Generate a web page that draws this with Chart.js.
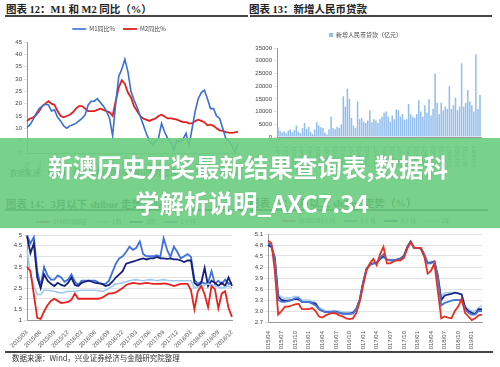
<!DOCTYPE html>
<html>
<head>
<meta charset="utf-8">
<script src="https://cdn.jsdelivr.net/npm/chart.js@4.4.1/dist/chart.umd.min.js"></script>
<style>
  body { margin: 0; width: 500px; height: 367px; background: #fff; position: relative; overflow: hidden; font-family: "Noto Sans CJK SC", sans-serif; }
  .box { position: absolute; }
  .title { position: absolute; font-family: "Liberation Serif", "Noto Sans CJK SC", serif; font-weight: bold; font-size: 10.5px; color: #222; white-space: nowrap; }
  .rule { position: absolute; height: 1.5px; background: #444; }
  .src { position: absolute; font-size: 7.5px; color: #333; white-space: nowrap; }
  #banner { position: absolute; left: 0; top: 138px; width: 500px; height: 90px; background: rgba(105, 205, 128, 0.9); z-index: 10; }
  .bt { position: absolute; left: 0; width: 496px; text-align: center; color: #fff; font-weight: bold; font-size: 24.5px; line-height: 30px; white-space: nowrap; z-index: 11; text-shadow: 0 0 2px rgba(0,0,0,0.12); }
</style>
</head>
<body>
<div class="title" style="left:6px;top:1px">图表 12：M1 和 M2 同比（%）</div>
<div class="rule" style="left:5px;top:15px;width:243px"></div>
<div class="title" style="left:249px;top:1px">图表 13：新增人民币贷款</div>
<div class="rule" style="left:250px;top:15px;width:242px"></div>

<div class="box" style="left:0;top:18px;width:245px;height:160px"><canvas id="m12"></canvas></div>
<div class="box" style="left:250px;top:22px;width:240px;height:150px"><canvas id="loans"></canvas></div>
<div class="src" style="left:10px;top:167px">数据来源：Wind，兴业证券经济与金融研究院整理</div>

<div class="title" style="left:6px;top:196px">图表 14：3月以下 shibor 走势（%）</div>
<div class="rule" style="left:5px;top:209px;width:243px"></div>
<div class="title" style="left:249px;top:195px">图表 15：3月以上 shibor 走势（%）</div>
<div class="rule" style="left:250px;top:209px;width:238px"></div>

<div class="box" style="left:0;top:211px;width:245px;height:138px"><canvas id="shortRates"></canvas></div>
<div class="box" style="left:250px;top:210px;width:245px;height:140px"><canvas id="longRates"></canvas></div>
<div class="rule" style="left:5px;top:351px;width:488px"></div>
<div class="src" style="left:12px;top:352px">数据来源：Wind，兴业证券经济与金融研究院整理</div>

<div id="banner"></div>
<div class="bt" style="top:152px">新澳历史开奖最新结果查询表,数据科</div>
<div class="bt" style="top:188px;left:4px">学解析说明_AXC7.34</div>

<script>
// chart 12: M1 / M2 yoy, quarterly from 2002
const m12Years = ['2002','2003','2004','2005','2006','2007','2008','2009','2010','2011','2012','2013','2014','2015','2016','2017','2018','2019'];
const m1Yoy = [10.4,11.5,13.5,16,18,19,19.8,19.5,17,17.5,
  14.5,13,11,10,11,11.5,12,13,14,15.5,
  19.5,21,21,22,20.5,19,17,14,7,20,
  31,34,38,33,25,21.5,18.5,15,11.5,8,
  5,3.5,4.5,6,12,8.5,6,4.5,1,5,
  4.5,5.5,8,3,10,17,22,24.5,25.5,22,
  18,18,15,14,10,6,5,3,0.5,4];
const m2Yoy = [13,14,14.3,15.5,17,19,20,21,20,19.5,
  17,15,14.5,15,15.5,16.5,18,19,19,18,
  17,17,17,17.5,18,17.5,17,16.5,15,21,
  26.5,29.5,28,24.5,22.5,19,17,15,14,13.5,
  13,13.5,14,15,15.5,14.8,14,14,13.8,13.5,
  13,12.5,12.5,12,12,13,13.5,13,12.5,11.2,
  11.5,11,10,9.2,9,8.5,8.3,8.2,8.4,8.6];

// chart 13: new RMB loans (100 million yuan), every two months
const loanStart = [2002, 7];
const newLoans = [3800,2500,1800,2200,1500,2600,3000,1800,2800,4500,
  2000,1500,3500,5500,3200,4000,2000,1200,3000,5800,
  4500,3800,3500,1800,1000,3000,8000,3500,3000,4000,
  3500,5000,16000,12000,19000,15000,7500,4500,3500,14000,
  7000,7500,6000,5500,6500,10500,5800,7000,6500,5500,
  7000,8000,9500,10000,8000,6000,8500,7000,10800,10500,
  8000,9000,6800,7000,13000,9000,8000,7500,9000,14500,
  10000,8000,12500,9500,14800,8500,11000,25000,13500,9000,
  13500,10500,12000,11000,20000,11000,12500,15500,10500,12000,
  29000,12000,13500,18500,14000,12500,10000,32500,11000,16500];

// chart 14: shibor below 3 months
const shortTicks = ['2015/03','2015/06','2015/09','2015/12','2016/03','2016/06','2016/09','2016/12','2017/03','2017/06','2017/09','2017/12','2018/03','2018/06','2018/09','2018/12'];
const shiborON = [3.5,3.3,2.2,1.1,1.05,1.4,1.7,1.9,2.0,1.9,
  1.8,1.82,1.85,1.95,2.25,2.0,2.0,2.0,2.0,2.0,
  2.0,2.0,2.05,2.15,2.25,2.25,2.3,2.4,2.5,2.65,
  2.7,2.75,2.72,2.7,2.72,2.75,2.72,2.7,2.7,2.7,
  2.72,2.7,2.65,2.6,2.65,2.7,2.7,2.7,2.4,1.5,
  2.35,2.6,2.2,1.6,2.6,2.45,1.55,2.25,2.35,1.55,1.15];
const shibor1W = [4.3,3.15,2.6,2.2,2.2,2.4,2.4,2.38,2.35,2.3,
  2.27,2.3,2.35,2.35,2.35,2.38,2.4,2.4,2.4,2.4,
  2.4,2.38,2.35,2.4,2.5,2.6,2.7,2.72,2.75,2.8,
  2.85,2.88,2.9,2.87,2.85,2.88,2.9,2.88,2.85,2.88,
  2.9,2.87,2.85,2.85,2.85,2.85,2.85,2.85,2.85,2.5,
  2.55,2.6,2.65,2.7,2.65,2.6,2.55,2.5,2.55,2.6,2.5];
const shibor2W = [4.95,4.15,4.6,3.0,2.5,3.15,2.85,2.7,2.6,2.75,
  2.65,2.6,2.75,3.0,2.65,2.6,2.75,2.8,2.85,2.8,
  2.75,2.72,2.7,2.6,2.65,2.8,3.0,3.15,3.3,3.65,
  3.7,3.75,3.8,3.85,3.9,3.85,3.9,3.9,3.97,3.9,
  3.9,3.88,3.9,3.85,3.85,3.8,3.73,3.8,3.8,2.75,
  2.6,2.75,3.45,2.6,2.85,2.75,2.6,2.75,2.6,3.0,2.6];
const shibor1M = [5.0,4.6,4.9,3.3,2.6,3.5,3.1,2.9,2.9,3.1,
  3.0,2.8,2.9,3.15,2.8,2.65,2.85,2.85,2.85,2.85,
  2.85,2.75,2.7,2.7,2.85,3.25,3.65,3.9,4.0,4.2,
  4.45,4.3,4.4,4.7,4.1,4.0,4.0,4.0,4.05,3.97,
  4.85,4.3,3.97,4.45,4.2,3.9,4.0,4.1,3.97,2.9,
  2.7,2.8,2.7,2.75,3.3,2.7,2.85,2.7,2.9,2.7,2.75];

// chart 15: shibor 3 months and above
const longTicks = ['2015/04','2015/07','2015/10','2016/01','2016/04','2016/07','2016/10','2017/01','2017/04','2017/07','2017/10','2018/01','2018/04','2018/07','2018/10','2019/01'];
const shibor3M = [4.92,4.85,4.1,2.9,3.0,3.12,3.12,3.15,3.18,3.2,
  3.05,3.05,3.05,3.08,3.0,2.85,2.82,2.88,2.92,2.95,
  2.93,2.88,2.85,2.8,2.78,2.8,2.95,3.25,3.7,4.1,
  4.3,4.42,4.25,4.55,4.75,4.3,4.3,4.35,4.38,4.38,
  4.45,4.7,4.88,4.72,4.72,4.72,4.5,4.02,4.1,4.3,
  3.55,2.8,2.85,2.82,2.8,3.0,3.12,3.33,2.95,2.85,
  2.75,2.8,2.88,2.9];
const shibor6M = [4.85,4.8,4.4,3.3,3.25,3.25,3.27,3.3,3.35,3.35,
  3.25,3.25,3.25,3.2,3.15,3.05,3.0,2.97,2.97,2.98,
  2.97,2.95,2.92,2.92,2.92,2.93,3.05,3.3,3.75,4.15,
  4.25,4.3,4.3,4.45,4.55,4.4,4.38,4.38,4.4,4.4,
  4.48,4.72,4.88,4.72,4.72,4.72,4.55,4.3,4.3,4.35,
  3.9,3.15,3.22,3.25,3.28,3.3,3.3,3.3,3.05,2.95,
  2.9,2.9,3.0,3.0];
const shibor9M = [4.8,4.75,4.45,3.4,3.3,3.28,3.28,3.3,3.33,3.32,
  3.25,3.25,3.25,3.22,3.2,3.05,3.0,2.97,2.97,2.98,
  2.98,2.95,2.93,2.93,2.93,2.95,3.05,3.3,3.78,4.15,
  4.27,4.3,4.32,4.42,4.5,4.4,4.38,4.38,4.4,4.42,
  4.5,4.75,4.9,4.72,4.72,4.7,4.5,4.3,4.32,4.35,
  3.95,3.3,3.42,3.45,3.47,3.5,3.48,3.45,3.1,3.0,
  2.95,2.92,3.05,3.05];
const shibor1Y = [4.8,4.75,4.5,3.45,3.38,3.35,3.35,3.37,3.4,3.38,
  3.3,3.3,3.3,3.27,3.22,3.1,3.05,3.0,3.0,3.0,
  3.0,3.0,2.97,2.97,2.97,2.98,3.08,3.35,3.8,4.15,
  4.25,4.3,4.32,4.4,4.45,4.4,4.4,4.4,4.42,4.45,
  4.52,4.75,4.85,4.75,4.72,4.7,4.55,4.35,4.35,4.35,
  4.0,3.4,3.5,3.5,3.5,3.5,3.48,3.45,3.15,3.05,
  3.0,3.0,3.1,3.15];

const tickFont = { family: 'Liberation Sans', size: 6 };
const legendFont = { family: 'Noto Sans CJK SC', size: 6 };

function lineSet(label, data, color, width) {
  return { label: label, data: data, borderColor: color, backgroundColor: color, borderWidth: width, pointRadius: 0, tension: 0 };
}

function everyFourth(names) {
  return function (v, i) { return i % 4 === 0 ? names[i / 4] : null; };
}

function lineLegend() {
  return { labels: { font: legendFont, color: '#444', usePointStyle: true, pointStyle: 'line', pointStyleWidth: 14, padding: 8, boxHeight: 6 } };
}

function axisX(names, rot, h) {
  return {
    grid: { display: false }, border: { color: '#999' },
    ticks: { font: tickFont, color: '#555', autoSkip: false, minRotation: rot, maxRotation: rot, padding: 1, callback: everyFourth(names) },
    afterFit: s => { s.height = h; }
  };
}

function axisY(min, max, step, w, gridOn, fmt) {
  return {
    min: min, max: max,
    grid: { drawOnChartArea: gridOn, color: '#e2e2e2', tickLength: 3 },
    border: { color: '#999' },
    ticks: { stepSize: step, font: tickFont, color: '#444', padding: 2, callback: fmt || (v => v) },
    afterFit: s => { s.width = w; }
  };
}

// labels for point positions
const m12Labels = m1Yoy.map((v, i) => m12Years[Math.floor(i / 4)]);
const loanLabels = newLoans.map((v, i) => {
  const m = loanStart[1] - 1 + i * 2;
  const y = loanStart[0] + Math.floor(m / 12);
  const mm = (m % 12) + 1;
  return y + '/' + (mm < 10 ? '0' + mm : mm);
});
const loanTickNames = loanLabels.filter((v, i) => i % 4 === 0);
const shortLabels = shiborON.map((v, i) => i);
const longLabels = shibor3M.map((v, i) => i);

new Chart(document.getElementById('m12'), {
  type: 'line',
  data: {
    labels: m12Labels,
    datasets: [
      lineSet('M1同比%', m1Yoy, '#3b6fd2', 1.6),
      lineSet('M2同比%', m2Yoy, '#e0201c', 1.8)
    ]
  },
  options: {
    responsive: true, maintainAspectRatio: false, animation: false,
    layout: { padding: { left: 0, right: 7, top: 0, bottom: 0 } },
    plugins: { legend: lineLegend(), tooltip: { enabled: false } },
    scales: {
      x: axisX(m12Years, 90, 25),
      y: axisY(0, 45, 5, 27, false)
    }
  }
});

new Chart(document.getElementById('loans'), {
  type: 'bar',
  data: {
    labels: loanLabels,
    datasets: [{
      label: '新增人民币贷款（亿元）',
      data: newLoans,
      backgroundColor: 'rgba(140, 186, 236, 0.95)',
      barPercentage: 0.75,
      categoryPercentage: 1
    }]
  },
  options: {
    responsive: true, maintainAspectRatio: false, animation: false,
    layout: { padding: { left: 0, right: 9, top: 0, bottom: 0 } },
    plugins: {
      legend: { labels: { font: legendFont, color: '#444', boxWidth: 4, boxHeight: 4, padding: 10 } },
      tooltip: { enabled: false }
    },
    scales: {
      x: axisX(loanTickNames, 90, 35),
      y: axisY(0, 35000, 5000, 27, false)
    }
  }
});

new Chart(document.getElementById('shortRates'), {
  type: 'line',
  data: {
    labels: shortLabels,
    datasets: [
      lineSet('SHIBOR隔夜', shiborON, '#e8231f', 1.8),
      lineSet('1周', shibor1W, '#9fcaf0', 1.6),
      lineSet('2周', shibor2W, '#16207a', 1.8),
      lineSet('1个月', shibor1M, '#4070e0', 1.8)
    ]
  },
  options: {
    responsive: true, maintainAspectRatio: false, animation: false,
    layout: { padding: { left: 0, right: 13, top: 0, bottom: 0 } },
    plugins: { legend: lineLegend(), tooltip: { enabled: false } },
    scales: {
      x: axisX(shortTicks, 45, 29),
      y: axisY(1, 5, 0.5, 27, true)
    }
  }
});

new Chart(document.getElementById('longRates'), {
  type: 'line',
  data: {
    labels: longLabels,
    datasets: [
      lineSet('SHIBOR3个月', shibor3M, '#e53022', 1.8),
      lineSet('6个月', shibor6M, '#4a78d6', 1.8),
      lineSet('9个月', shibor9M, '#1b2a86', 1.8),
      lineSet('1年', shibor1Y, '#a9cff2', 1.6)
    ]
  },
  options: {
    responsive: true, maintainAspectRatio: false, animation: false,
    layout: { padding: { left: 0, right: 13, top: 0, bottom: 0 } },
    plugins: { legend: lineLegend(), tooltip: { enabled: false } },
    scales: {
      x: axisX(longTicks, 90, 28),
      y: axisY(2.7, 5.1, 0.3, 18, true, v => v.toFixed(1))
    }
  }
});
</script>
</body>
</html>
